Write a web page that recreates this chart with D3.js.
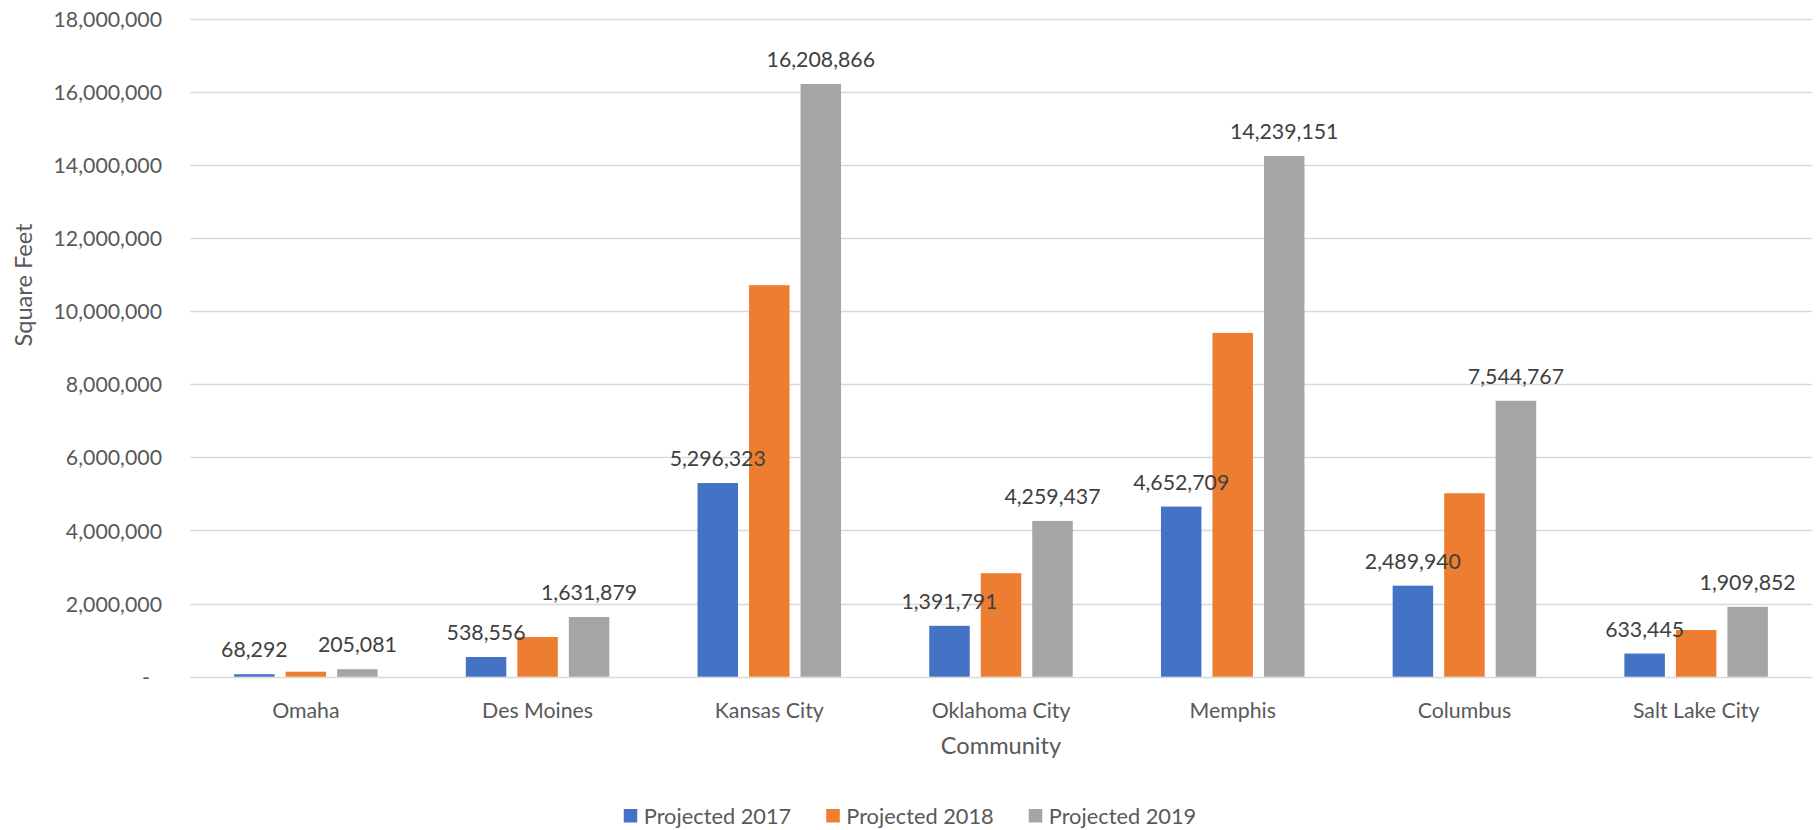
<!DOCTYPE html>
<html>
<head>
<meta charset="utf-8">
<script src="https://cdn.jsdelivr.net/npm/d3@7"></script>
<style>
  html, body { margin: 0; padding: 0; background: #fff; }
  svg { display: block; font-family: Lato, "Open Sans", sans-serif; }
</style>
</head>
<body>
<svg id="chart" width="1818" height="830"></svg>
<script>
// Projected square footage by community
const communities = ["Omaha", "Des Moines", "Kansas City", "Oklahoma City", "Memphis", "Columbus", "Salt Lake City"];
const seriesNames = ["Projected 2017", "Projected 2018", "Projected 2019"];
const projected2017 = [68292, 538556, 5296323, 1391791, 4652709, 2489940, 633445];
const projected2018 = [137000, 1086000, 10707000, 2830000, 9402000, 5017000, 1277000];
const projected2019 = [205081, 1631879, 16208866, 4259437, 14239151, 7544767, 1909852];
const yTicks = [0, 2000000, 4000000, 6000000, 8000000, 10000000, 12000000, 14000000, 16000000, 18000000];
const labeledSeries = ["Projected 2017", "Projected 2019"];

const seriesColors = ["#4472C4", "#ED7D31", "#A5A5A5"];
const textColor = "#595959";
const gridColor = "#D9D9D9";

const seriesValues = [projected2017, projected2018, projected2019];
const rows = communities.map((c, i) => ({
  community: c,
  values: seriesNames.map((s, k) => ({ series: s, value: seriesValues[k][i] }))
}));

const svg = d3.select("#chart");
const plot = { left: 190, right: 1812, top: 18.5, bottom: 676.7 };

const x0 = d3.scaleBand().domain(communities).range([plot.left, plot.right]).padding(0);
const x1 = d3.scaleBand().domain(seriesNames).range([0, x0.bandwidth()])
  .paddingInner(0.214).paddingOuter(0.856);
const y = d3.scaleLinear().domain([0, 18000000]).range([plot.bottom, plot.top]);
const color = d3.scaleOrdinal().domain(seriesNames).range(seriesColors);

const fmt = d3.format(",");
const fontSize = 21.3;

// Horizontal gridlines
svg.append("g")
  .selectAll("line")
  .data(yTicks)
  .join("line")
  .attr("x1", plot.left)
  .attr("x2", plot.right)
  .attr("y1", d => Math.round(y(d)) + 0.5)
  .attr("y2", d => Math.round(y(d)) + 0.5)
  .attr("stroke", gridColor)
  .attr("stroke-width", d => d === 0 ? 1.6 : 1.3);

// Y axis labels
const yAxis = d3.axisLeft(y)
  .tickValues(yTicks)
  .tickSize(0)
  .tickPadding(0)
  .tickFormat(d => d === 0 ? "-" : fmt(d));
const yAxisG = svg.append("g")
  .attr("transform", `translate(162,0)`)
  .call(yAxis);
yAxisG.select(".domain").remove();
yAxisG.selectAll("text")
  .attr("fill", textColor)
  .attr("font-size", fontSize)
  .attr("font-family", "Lato")
  .attr("x", d => d === 0 ? -12 : 0)
  .attr("dy", "0.36em");

// Bars
const groups = svg.append("g")
  .selectAll("g")
  .data(rows)
  .join("g")
  .attr("transform", d => `translate(${x0(d.community)},0)`);

groups.selectAll("rect")
  .data(d => d.values)
  .join("rect")
  .attr("x", d => x1(d.series))
  .attr("width", x1.bandwidth())
  .attr("y", d => y(d.value))
  .attr("height", d => y(0) - y(d.value))
  .attr("fill", d => color(d.series));

// Data labels (2017 and 2019 series)
const labelLayer = svg.append("g");
rows.forEach(r => {
  r.values.filter(v => labeledSeries.includes(v.series)).forEach(v => {
    labelLayer.append("text")
      .attr("x", x0(r.community) + x1(v.series) + x1.bandwidth() / 2)
      .attr("y", y(v.value) - 17)
      .attr("text-anchor", "middle")
      .attr("fill", "#404040")
      .attr("font-size", fontSize)
      .text(fmt(v.value));
  });
});

// Category axis labels
const xAxis = d3.axisBottom(x0).tickSize(0).tickPadding(0);
const xAxisG = svg.append("g")
  .attr("transform", `translate(0,${plot.bottom})`)
  .call(xAxis);
xAxisG.select(".domain").remove();
xAxisG.selectAll("text")
  .attr("fill", textColor)
  .attr("font-size", fontSize)
  .attr("font-family", "Lato")
  .attr("y", 41)
  .attr("dy", 0);

// Axis titles
svg.append("text")
  .attr("x", (plot.left + plot.right) / 2)
  .attr("y", 754)
  .attr("text-anchor", "middle")
  .attr("fill", textColor)
  .attr("font-size", 23.6)
  .text("Community");

svg.append("text")
  .attr("transform", "translate(32,285) rotate(-90)")
  .attr("text-anchor", "middle")
  .attr("fill", textColor)
  .attr("font-size", 23.6)
  .text("Square Feet");

// Legend
const legend = svg.append("g");
const items = legend.selectAll("g")
  .data(seriesNames)
  .join("g");
items.append("rect")
  .attr("width", 13.5)
  .attr("height", 13.5)
  .attr("y", 809)
  .attr("fill", d => color(d));
items.append("text")
  .attr("x", 20)
  .attr("y", 823.5)
  .attr("fill", textColor)
  .attr("font-size", 21.8)
  .text(d => d);

const itemGap = 35;
let widths = [];
items.each(function() {
  widths.push(20 + d3.select(this).select("text").node().getComputedTextLength());
});
const total = d3.sum(widths) + itemGap * (widths.length - 1);
let cursor = 910 - total / 2;
items.each(function(d, i) {
  d3.select(this).attr("transform", `translate(${cursor},0)`);
  cursor += widths[i] + itemGap;
});
</script>
</body>
</html>
